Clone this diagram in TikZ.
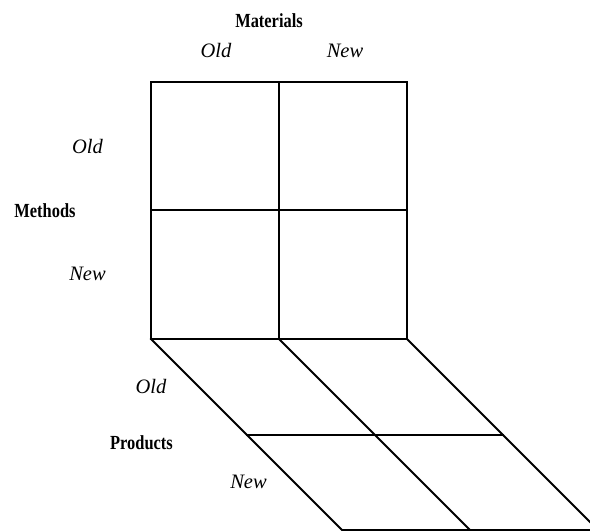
\documentclass[tikz,border=0pt]{standalone}
\usepackage{fontspec}
\setmainfont{Liberation Serif}
\begin{document}
\begin{tikzpicture}[x=1pt,y=-1pt,
  grid/.style={line width=1.8pt, line cap=rect, line join=miter},
  head/.style={font=\fontsize{20}{22}\selectfont\bfseries, inner sep=0pt, anchor=base},
  lbl/.style={font=\fontsize{20.5}{22}\selectfont\itshape, inner sep=0pt, anchor=base}]
\useasboundingbox (0,0) rectangle (590,531);
\clip (0,0) rectangle (590,531);
% square corners
\coordinate (tl) at (151,82);
\coordinate (tm) at (279,82);
\coordinate (tr) at (407,82);
\coordinate (ml) at (151,210);
\coordinate (mr) at (407,210);
\coordinate (bl) at (151,339);
\coordinate (bm) at (279,339);
\coordinate (br) at (407,339);
% floor
\coordinate (fl) at (247,435);
\coordinate (fr) at (503,435);
\coordinate (el) at (342,530);
\coordinate (em) at (470,530);
\coordinate (er) at (598,530);
% front square
\draw[grid] (tl) rectangle (br);
\draw[grid] (tm) -- (bm);
\draw[grid] (ml) -- (mr);
% floor
\draw[grid] (bl) -- (el) -- (er);
\draw[grid] (bm) -- (em);
\draw[grid] (br) -- (er);
\draw[grid] (fl) -- (fr);
% labels
\node[head] (mat) at (269,27) {\scalebox{0.82}[1]{Materials}};
\node[lbl] (mold) at (216,57) {Old};
\node[lbl] (mnew) at (345,57) {New};
\node[lbl] (meold) at (87.5,153) {Old};
\node[head] (meth) at (45,217) {\scalebox{0.82}[1]{Methods}};
\node[lbl] (menew) at (87.5,280) {New};
\node[lbl] (pold) at (151,393) {Old};
\node[head] (prod) at (141.5,449) {\scalebox{0.82}[1]{Products}};
\node[lbl] (pnew) at (248.5,488) {New};
\end{tikzpicture}
\end{document}
